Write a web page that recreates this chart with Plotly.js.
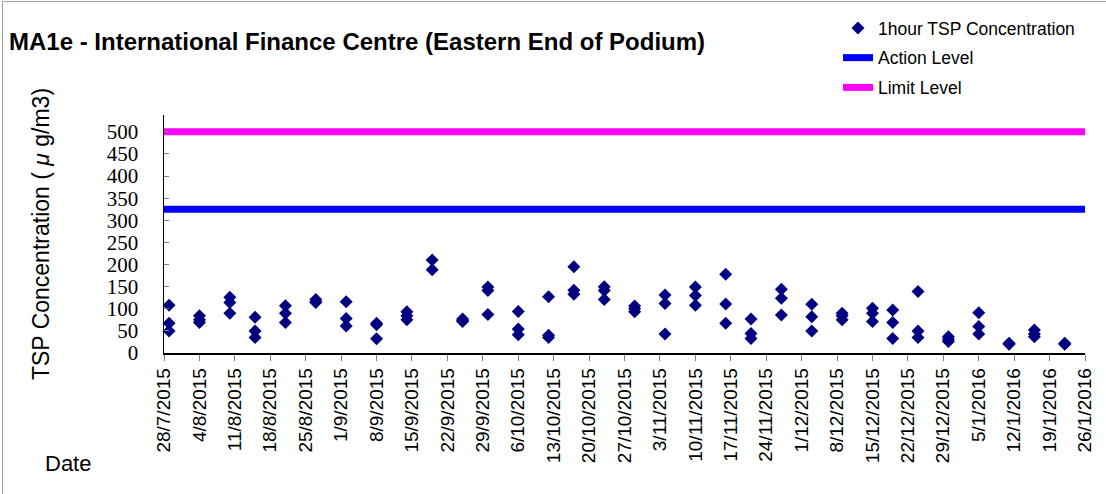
<!DOCTYPE html>
<html>
<head>
<meta charset="utf-8">
<script src="https://cdn.plot.ly/plotly-3.0.1.min.js"></script>
<style>
html,body{margin:0;padding:0;background:#fff;}
#wrap{position:relative;width:1106px;height:494px;}
#chart{width:1106px;height:494px;}
#frame{position:absolute;left:2px;top:1px;width:1104px;height:493px;border-left:1px solid #a0a0a0;border-top:1px solid #a0a0a0;pointer-events:none;}
</style>
</head>
<body>
<div id="wrap"><div id="chart"></div><div id="frame"></div></div>
<script>
// Sampling dates and 1-hour TSP readings (µg/m3)
const sampleDates = [
  '2015-07-29','2015-07-29','2015-07-29',
  '2015-08-04','2015-08-04','2015-08-04',
  '2015-08-10','2015-08-10','2015-08-10',
  '2015-08-15','2015-08-15','2015-08-15',
  '2015-08-21','2015-08-21','2015-08-21',
  '2015-08-27','2015-08-27','2015-08-27',
  '2015-09-02','2015-09-02','2015-09-02',
  '2015-09-08','2015-09-08','2015-09-08',
  '2015-09-14','2015-09-14','2015-09-14',
  '2015-09-19','2015-09-19',
  '2015-09-25','2015-09-25','2015-09-25',
  '2015-09-30','2015-09-30','2015-09-30',
  '2015-10-06','2015-10-06','2015-10-06',
  '2015-10-12','2015-10-12','2015-10-12',
  '2015-10-17','2015-10-17','2015-10-17',
  '2015-10-23','2015-10-23','2015-10-23',
  '2015-10-29','2015-10-29','2015-10-29',
  '2015-11-04','2015-11-04','2015-11-04',
  '2015-11-10','2015-11-10','2015-11-10',
  '2015-11-16','2015-11-16','2015-11-16',
  '2015-11-21','2015-11-21','2015-11-21',
  '2015-11-27','2015-11-27','2015-11-27',
  '2015-12-03','2015-12-03','2015-12-03',
  '2015-12-09','2015-12-09','2015-12-09',
  '2015-12-15','2015-12-15','2015-12-15',
  '2015-12-19','2015-12-19','2015-12-19',
  '2015-12-24','2015-12-24','2015-12-24',
  '2015-12-30','2015-12-30','2015-12-30',
  '2016-01-05','2016-01-05','2016-01-05',
  '2016-01-11','2016-01-11','2016-01-11',
  '2016-01-16','2016-01-16','2016-01-16',
  '2016-01-22','2016-01-22','2016-01-22'
];
const tspValues = [
  108, 67, 50,
  84, 75, 69,
  126, 114, 90,
  81, 50, 35,
  107, 90, 69,
  121, 116, 114,
  116, 78, 61,
  67, 64, 32,
  93, 84, 75,
  210, 188,
  77, 73, 71,
  149, 141, 87,
  94, 54, 41,
  127, 40, 35,
  195, 142, 133,
  150, 141, 121,
  106, 100, 93,
  131, 112, 43,
  149, 130, 108,
  178, 111, 67,
  77, 44, 33,
  144, 124, 86,
  110, 82, 50,
  90, 84, 75,
  101, 90, 71,
  97, 69, 33,
  139, 50, 35,
  37, 31, 26,
  91, 60, 43,
  22, 21, 20,
  52, 43, 37,
  22, 21, 20
];
// Criteria levels
const actionLevel = 325;
const limitLevel = 500;
const levelDates = ['2015-07-28', '2016-01-26'];
// Weekly tick dates and labels
const tickDates = ['2015-07-28','2015-08-04','2015-08-11','2015-08-18','2015-08-25','2015-09-01','2015-09-08','2015-09-15','2015-09-22','2015-09-29','2015-10-06','2015-10-13','2015-10-20','2015-10-27','2015-11-03','2015-11-10','2015-11-17','2015-11-24','2015-12-01','2015-12-08','2015-12-15','2015-12-22','2015-12-29','2016-01-05','2016-01-12','2016-01-19','2016-01-26'];
const tickLabels = ['28/7/2015','4/8/2015','11/8/2015','18/8/2015','25/8/2015','1/9/2015','8/9/2015','15/9/2015','22/9/2015','29/9/2015','6/10/2015','13/10/2015','20/10/2015','27/10/2015','3/11/2015','10/11/2015','17/11/2015','24/11/2015','1/12/2015','8/12/2015','15/12/2015','22/12/2015','29/12/2015','5/1/2016','12/1/2016','19/1/2016','26/1/2016'];

const L = 164, R = 21, T = 115, B = 141;
const PW = 1106 - L - R, PH = 494 - T - B;

const traces = [
  {
    type: 'scatter', mode: 'markers', name: '1hour TSP Concentration',
    x: sampleDates, y: tspValues,
    marker: {symbol: 'diamond', size: 10, color: '#000080', line: {width: 0}},
    legendgroup: 'a', cliponaxis: false
  },
  {
    type: 'scatter', mode: 'lines', name: 'Action Level',
    x: levelDates, y: [actionLevel, actionLevel],
    line: {color: '#0000ff', width: 7}, legendgroup: 'b'
  },
  {
    type: 'scatter', mode: 'lines', name: 'Limit Level',
    x: levelDates, y: [limitLevel, limitLevel],
    line: {color: '#ff00ff', width: 7}, legendgroup: 'c'
  }
];

const layout = {
  width: 1106, height: 494,
  paper_bgcolor: '#ffffff', plot_bgcolor: '#ffffff',
  margin: {l: L, r: R, t: T, b: B, autoexpand: false},
  font: {family: 'Arial, "Liberation Sans", sans-serif', color: '#000'},
  title: {
    text: '<b>MA1e - International Finance Centre (Eastern End of Podium)</b>',
    font: {family: 'Arial, "Liberation Sans", sans-serif', size: 24, color: '#000'},
    x: 9 / 1106, xanchor: 'left', xref: 'container',
    y: 1 - 42 / 494, yanchor: 'middle', yref: 'container'
  },
  showlegend: true,
  legend: {
    x: (838 - L) / PW, xref: 'paper', xanchor: 'left',
    y: (494 - B - 10) / PH, yref: 'paper', yanchor: 'top',
    font: {size: 17.5, color: '#000'},
    tracegroupgap: 4, bgcolor: 'rgba(0,0,0,0)'
  },
  xaxis: {
    type: 'date',
    range: ['2015-07-28', '2016-01-26'],
    tickmode: 'array', tickvals: tickDates, ticktext: tickLabels,
    tickangle: -90,
    tickfont: {family: 'Arial, "Liberation Sans", sans-serif', size: 19, color: '#000'},
    ticks: 'outside', ticklen: 6, tickcolor: '#808080', tickwidth: 1,
    showline: true, linecolor: '#000', linewidth: 1.5,
    showgrid: false, zeroline: false, fixedrange: true
  },
  yaxis: {
    range: [0, 538],
    tickmode: 'linear', tick0: 0, dtick: 50,
    tickfont: {family: '"Liberation Serif", "Times New Roman", serif', size: 21, color: '#000'},
    ticks: 'inside', ticklen: 5, tickcolor: '#808080', tickwidth: 1,
    ticklabelstandoff: 20,
    showline: true, linecolor: '#000', linewidth: 1.5,
    showgrid: false, zeroline: false, fixedrange: true,
    title: {
      text: 'TSP Concentration ( <i>μ</i> g/m3)',
      font: {family: 'Arial, "Liberation Sans", sans-serif', size: 23, color: '#000'},
      standoff: 50
    }
  },
  annotations: [
    {
      text: 'Date', xref: 'paper', yref: 'paper',
      x: (43 - L) / PW, y: (494 - B - 463) / PH,
      xanchor: 'left', yanchor: 'middle', showarrow: false,
      font: {family: 'Arial, "Liberation Sans", sans-serif', size: 22, color: '#000'}
    }
  ]
};

Plotly.newPlot('chart', traces, layout, {displayModeBar: false, staticPlot: true});
</script>
</body>
</html>
